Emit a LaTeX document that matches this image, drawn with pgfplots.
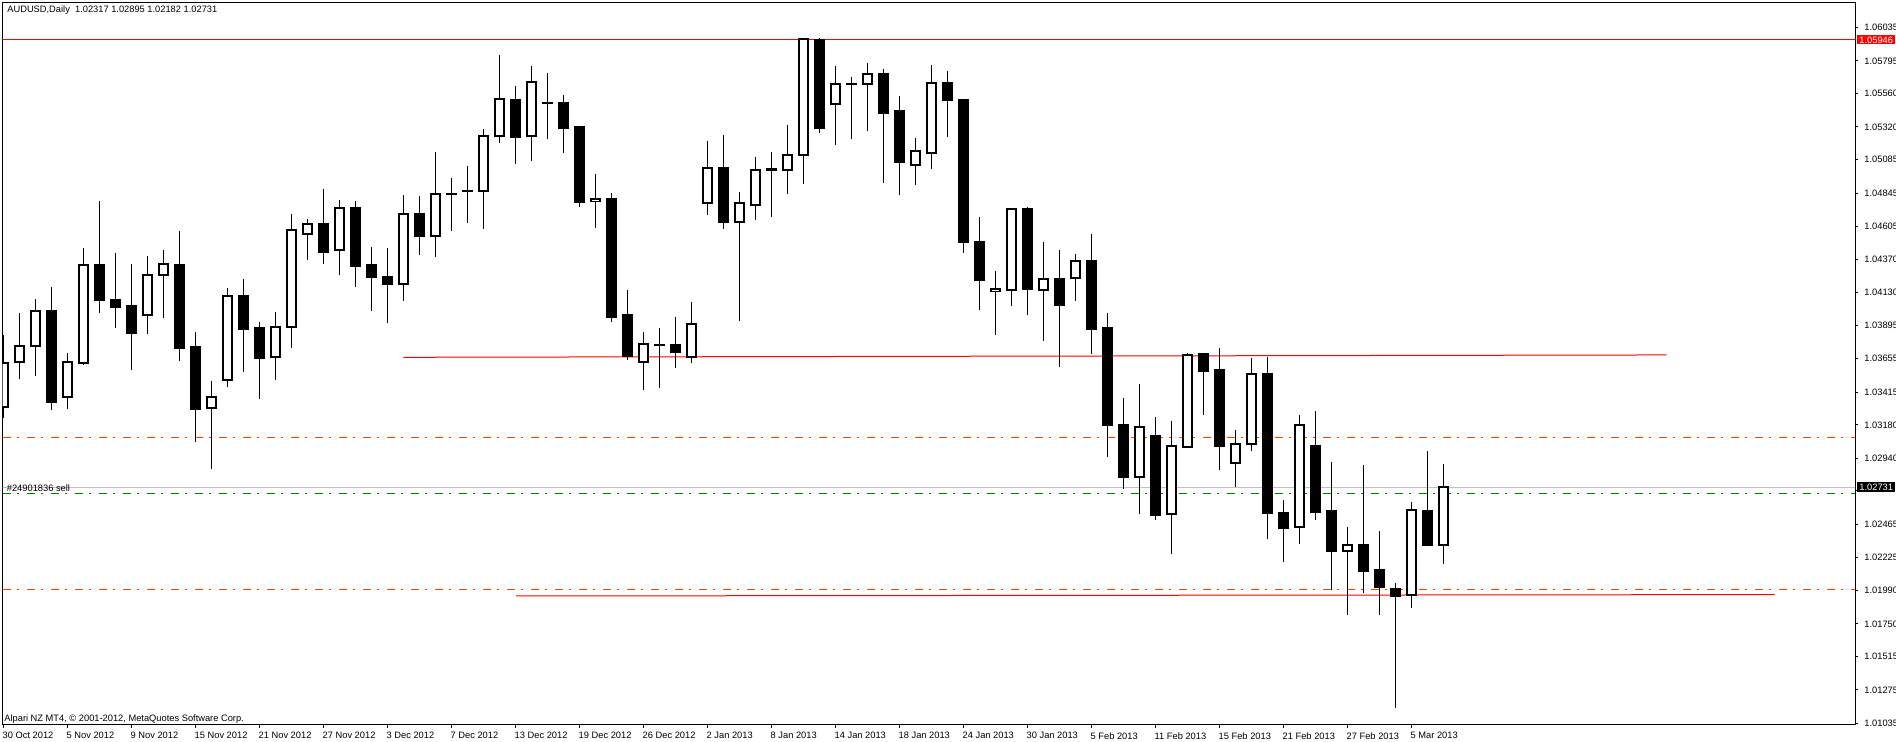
\documentclass[border=0pt]{standalone}
\usepackage{pgfplots}
\pgfplotsset{compat=1.18}
\usepackage{pgfplotstable}
\usepackage{fontspec}
\setmainfont{Liberation Sans}
\newcommand\tf{\fontsize{4.65}{5.5}\selectfont}

\pgfplotstableread{
x o h l c
0 1.03306 1.03825 1.03231 1.03626
1 1.03629 1.03981 1.03511 1.03744
2 1.03744 1.04084 1.03533 1.03996
4 1.03378 1.03696 1.03296 1.03629
5 1.03626 1.04448 1.03612 1.04326
9 1.03967 1.04393 1.03835 1.04254
10 1.04254 1.04436 1.03950 1.04333
13 1.03299 1.03495 1.02860 1.03378
14 1.03500 1.04163 1.03454 1.04103
17 1.03665 1.03991 1.03504 1.03881
18 1.03881 1.04695 1.03734 1.04578
19 1.04549 1.04659 1.04367 1.04621
21 1.04434 1.04796 1.04259 1.04736
25 1.04190 1.04831 1.04072 1.04693
27 1.04535 1.05140 1.04388 1.04837
30 1.04858 1.05306 1.04589 1.05253
31 1.05253 1.05837 1.05207 1.05519
33 1.05253 1.05758 1.05078 1.05641
37 1.04786 1.04982 1.04596 1.04801
40 1.03629 1.03847 1.03432 1.03759
43 1.03665 1.04061 1.03626 1.03902
44 1.04772 1.05220 1.04690 1.05023
46 1.04640 1.04853 1.03928 1.04772
47 1.04757 1.05105 1.04654 1.05009
49 1.05009 1.05334 1.04841 1.05117
50 1.05117 1.05958 1.04913 1.05950
52 1.05488 1.05758 1.05193 1.05627
54 1.05627 1.05780 1.05294 1.05699
57 1.05045 1.05241 1.04905 1.05145
58 1.05131 1.05766 1.05020 1.05634
62 1.04139 1.04285 1.03828 1.04154
63 1.04147 1.04736 1.04036 1.04729
65 1.04147 1.04494 1.03784 1.04226
67 1.04233 1.04408 1.04072 1.04355
71 1.02803 1.03473 1.02541 1.03162
73 1.02537 1.03207 1.02254 1.03026
74 1.03023 1.03694 1.03015 1.03680
77 1.02903 1.03143 1.02735 1.03040
78 1.03040 1.03660 1.02994 1.03545
81 1.02444 1.03250 1.02326 1.03177
84 1.02271 1.02446 1.01816 1.02314
88 1.01955 1.02625 1.01866 1.02566
90 1.02317 1.02895 1.02182 1.02731
}\bulls

\pgfplotstableread{
x o h l c
3 1.03996 1.04170 1.03289 1.03346
6 1.04326 1.04788 1.03986 1.04079
7 1.04075 1.04415 1.03878 1.04029
8 1.04032 1.04336 1.03576 1.03842
11 1.04326 1.04573 1.03641 1.03734
12 1.03739 1.03845 1.03059 1.03296
15 1.04103 1.04228 1.03562 1.03871
16 1.03876 1.03919 1.03368 1.03662
20 1.04623 1.04875 1.04338 1.04424
22 1.04736 1.04788 1.04173 1.04323
23 1.04328 1.04458 1.04000 1.04244
24 1.04240 1.04451 1.03914 1.04190
26 1.04693 1.04824 1.04402 1.04539
28 1.04837 1.04954 1.04575 1.04837
29 1.04858 1.05040 1.04632 1.04858
32 1.05514 1.05615 1.05056 1.05250
34 1.05495 1.05708 1.05236 1.05490
35 1.05490 1.05550 1.05135 1.05315
36 1.05320 1.05322 1.04747 1.04783
38 1.04803 1.04846 1.03921 1.03957
39 1.03969 1.04149 1.03648 1.03677
41 1.03751 1.03876 1.03447 1.03751
42 1.03751 1.03955 1.03590 1.03701
45 1.05023 1.05263 1.04589 1.04640
48 1.05015 1.05140 1.04676 1.05011
51 1.05945 1.05960 1.05279 1.05315
53 1.05627 1.05677 1.05236 1.05627
55 1.05699 1.05735 1.04920 1.05423
56 1.05433 1.05543 1.04834 1.05071
59 1.05634 1.05722 1.05250 1.05516
60 1.05512 1.05521 1.04417 1.04490
61 1.04492 1.04673 1.04007 1.04218
64 1.04729 1.04743 1.03971 1.04154
66 1.04226 1.04436 1.03598 1.04043
68 1.04355 1.04551 1.03691 1.03871
69 1.03874 1.03984 1.02951 1.03181
70 1.03177 1.03373 1.02721 1.02807
72 1.03097 1.03236 1.02498 1.02534
75 1.03687 1.03696 1.03251 1.03569
76 1.03572 1.03732 1.02857 1.03030
79 1.03545 1.03670 1.02362 1.02548
80 1.02546 1.02640 1.02196 1.02441
82 1.03028 1.03279 1.02498 1.02556
83 1.02561 1.02913 1.01993 1.02275
85 1.02316 1.02891 1.01969 1.02132
86 1.02137 1.02417 1.01816 1.02017
87 1.02000 1.02043 1.01147 1.01948
89 1.02561 1.02992 1.02311 1.02318
}\bears

\definecolor{orred}{HTML}{FF4500}
\definecolor{ordgreen}{HTML}{008000}
\definecolor{bidgray}{HTML}{C0C0C0}

\pgfplotsset{
  candle/.style n args={2}{only marks, mark size=0pt, mark options={draw=none, fill=none},
    error bars/.cd, y dir=plus, y explicit, error mark=none,
    error bar style={draw=#1, line width=#2}},
}

\begin{document}
\begin{tikzpicture}
\path[use as bounding box] (0,0) rectangle (948pt,371pt);
\begin{axis}[
  at={(1.35pt,8.5pt)}, anchor=south west, scale only axis,
  width=926.15pt, height=361pt,
  xmin=-0.0375, xmax=115.73, ymin=1.01023, ymax=1.06211,
  clip mode=individual,
  axis line style={line width=0.5pt},
  tick align=outside, major tick length=1.5pt,
  tick style={black, line width=0.5pt},
  xtick pos=bottom, ytick pos=right, yticklabel pos=right,
  xtick={0,4,...,88},
  xticklabels={30 Oct 2012, 5 Nov 2012, 9 Nov 2012, 15 Nov 2012, 21 Nov 2012, 27 Nov 2012, 3 Dec 2012, 7 Dec 2012, 13 Dec 2012, 19 Dec 2012, 26 Dec 2012, 2 Jan 2013, 8 Jan 2013, 14 Jan 2013, 18 Jan 2013, 24 Jan 2013, 30 Jan 2013, 5 Feb 2013, 11 Feb 2013, 15 Feb 2013, 21 Feb 2013, 27 Feb 2013, 5 Mar 2013},
  ytick={1.01035,1.01275,1.01515,1.01750,1.01990,1.02225,1.02465,1.02705,1.02940,1.03180,1.03415,1.03655,1.03895,1.04130,1.04370,1.04605,1.04845,1.05085,1.05320,1.05560,1.05795,1.06035},
  yticklabels={1.01035,1.01275,1.01515,1.01750,1.01990,1.02225,1.02465,{},1.02940,1.03180,1.03415,1.03655,1.03895,1.04130,1.04370,1.04605,1.04845,1.05085,1.05320,1.05560,1.05795,1.06035},
  ticklabel style={font=\tf, inner sep=0pt},
  xticklabel style={anchor=north west, xshift=-0.5pt, yshift=-2pt},
  yticklabel style={anchor=west, xshift=3pt},
]
% reference lines
\addplot[bidgray, line width=0.5pt] coordinates {(-1,1.02731) (117,1.02731)};
\addplot[ordgreen, line width=0.5pt, dash pattern=on 4pt off 3pt on 1pt off 4pt] coordinates {(0,1.02683) (117,1.02683)};
\addplot[orred, line width=0.5pt, dash pattern=on 4pt off 3pt on 1pt off 4pt] coordinates {(0,1.03090) (117,1.03090)};
\addplot[orred, line width=0.5pt, dash pattern=on 4pt off 3pt on 1pt off 4pt] coordinates {(0,1.01993) (117,1.01993)};
\addplot[red, line width=0.5pt] coordinates {(-1,1.05946) (117,1.05946)};
\addplot[red, line width=0.5pt] coordinates {(25.0,1.03665) (103.96,1.03682)};
\addplot[red, line width=0.5pt] coordinates {(32.04,1.01950) (110.7,1.01960)};
% wicks
\addplot[candle={black}{0.55pt}]
  table[x=x, y=l, y error plus expr=\thisrow{h}-\thisrow{l}] {\bulls};
\addplot[candle={black}{0.55pt}]
  table[x=x, y=l, y error plus expr=\thisrow{h}-\thisrow{l}] {\bears};
% bodies
\addplot[candle={black}{5.4pt}]
  table[x=x, y expr=\thisrow{o}-0.00007, y error plus expr=\thisrow{c}-\thisrow{o}+0.00014] {\bulls};
\addplot[candle={black}{5.4pt}]
  table[x=x, y expr=\thisrow{c}-0.00007, y error plus expr=\thisrow{o}-\thisrow{c}+0.00014] {\bears};
\addplot[candle={white}{3.4pt}]
  table[x=x, y expr=\thisrow{o}+0.00007, y error plus expr=\thisrow{c}-\thisrow{o}-0.00014] {\bulls};
% price labels
\node[anchor=west, fill=red, text=white, font=\tf, inner xsep=1.2pt, inner ysep=0pt, minimum height=4.6pt, xshift=0.8pt] at (axis cs:115.73,1.05946) {1.05946};
\node[anchor=west, fill=black, text=white, font=\tf, inner xsep=1.2pt, inner ysep=0pt, minimum height=5pt, xshift=0.8pt] at (axis cs:115.73,1.02731) {1.02731};
\node[anchor=south west, font=\tf, inner sep=0pt, text=black] at (axis cs:0.2,1.02700) {\#24901836 sell};
\end{axis}
\node[anchor=west, font=\tf, inner sep=0pt] at (3.5pt,365.75pt) {AUDUSD,Daily\ \ 1.02317 1.02895 1.02182 1.02731};
\node[anchor=west, font=\tf, inner sep=0pt] at (2pt,11.5pt) {Alpari NZ MT4, \textcopyright\ 2001-2012, MetaQuotes Software Corp.};
\end{tikzpicture}
\end{document}
